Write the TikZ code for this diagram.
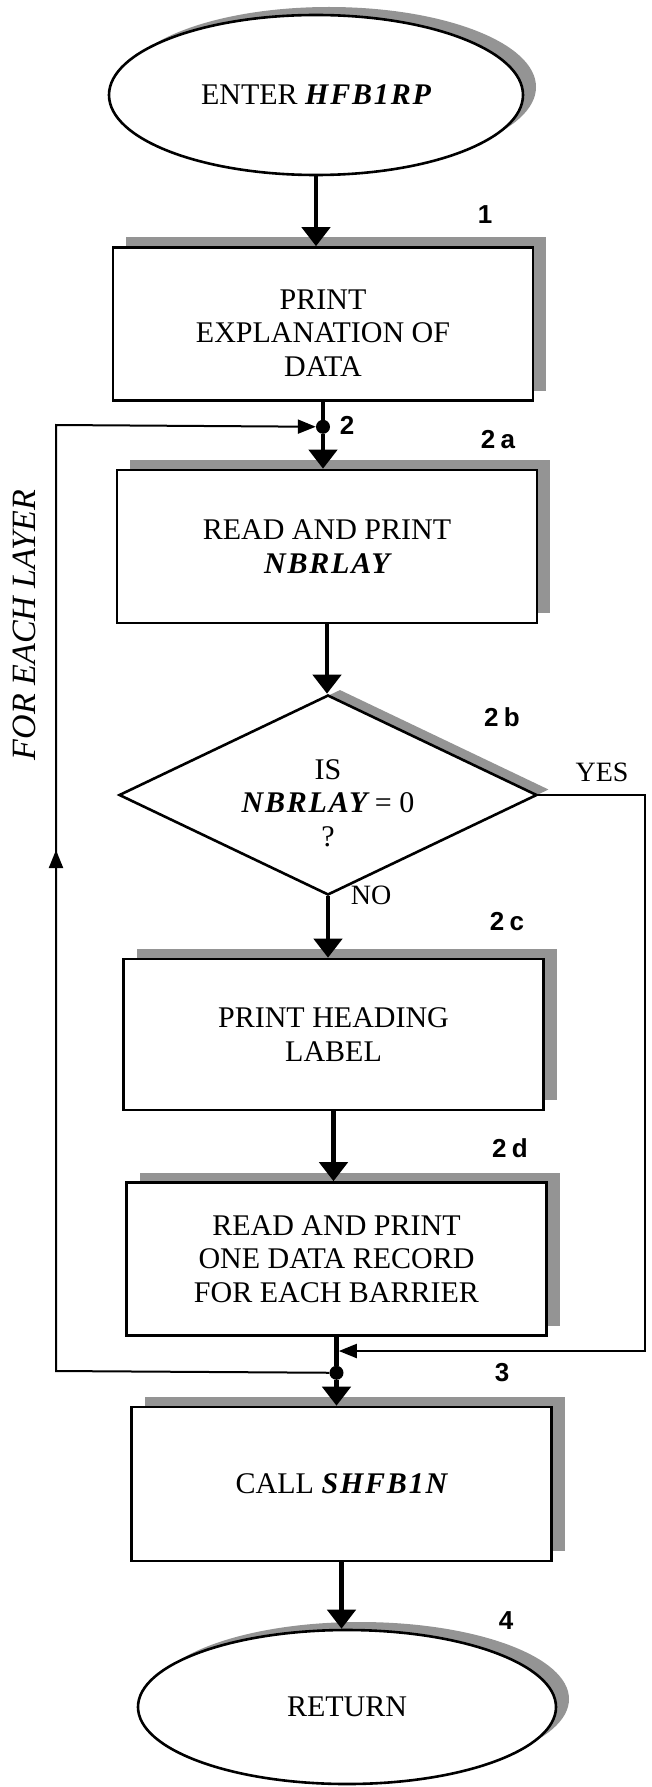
\documentclass[tikz,border=0pt]{standalone}
\usepackage{fontspec}
\setmainfont{Liberation Serif}
\newfontfamily\labelfont{Liberation Sans}[LetterSpace=20]
\newfontfamily\progfont{Liberation Serif}[LetterSpace=6]
\usetikzlibrary{shapes.geometric,arrows.meta,shadows}

\newcommand\prog[1]{{\progfont\bfseries\itshape #1}}

\tikzset{
  flowtext/.style={font=\fontsize{30}{33.5}\selectfont, align=center},
  shade box/.style={drop shadow={shadow xshift=13pt, shadow yshift=10pt,
      fill=black!42, opacity=1}},
  stepbox/.style={flowtext, draw, line width=2.6pt, fill=white,
      minimum width=420pt, minimum height=153pt, inner sep=0pt, shade box},
  terminal/.style={flowtext, ellipse, draw, line width=2.6pt, fill=white,
      inner sep=0pt, drop shadow={shadow xshift=13pt, shadow yshift=8pt,
      fill=black!42, opacity=1}},
  decision/.style={diamond, draw, line width=2.6pt, fill=white,
      minimum width=418pt, minimum height=200pt, inner sep=0pt,
      drop shadow={shadow xshift=12pt, shadow yshift=5.5pt,
      fill=black!42, opacity=1}},
  steplabel/.style={font=\labelfont\bfseries\fontsize{26}{28}\selectfont,
      inner sep=0pt},
  branchlabel/.style={font=\fontsize{28}{30}\selectfont, inner sep=0pt},
  junction/.style={circle, fill=black, inner sep=0pt, minimum size=14pt},
  flow/.style={line width=4.5pt, -{Triangle[width=28pt,length=19pt]}},
  flowline/.style={line width=4.5pt},
  looparrow/.style={line width=2pt, -{Triangle[width=14pt,length=18pt]}},
}

\begin{document}
\begin{tikzpicture}[x=1pt, y=-1pt]
\useasboundingbox (0,0) rectangle (652,1787);

% main chain of steps
\node[terminal, minimum width=414pt, minimum height=160pt] (enter) at (316,95)
  {ENTER \prog{HFB1RP}};
\node[stepbox] (b1) at (323,324) {};
\node[flowtext] (b1t) at ([yshift=-9pt]b1.center) {PRINT\\EXPLANATION OF\\DATA};
\node[stepbox] (b2a) at (327,546.5) {READ AND PRINT\\\prog{NBRLAY}};
\node[decision] (dia) at (328,795) {};
\node[flowtext] (diat) at ([yshift=-8pt]dia.center) {IS\\\prog{NBRLAY} = 0\\?};
\node[stepbox, minimum height=151pt] (b2c) at (333.5,1034.5) {PRINT HEADING\\LABEL};
\node[stepbox] (b2d) at (336.5,1259) {READ AND PRINT\\ONE DATA RECORD\\FOR EACH BARRIER};
\node[stepbox, minimum height=154pt] (b3) at (341.5,1484) {CALL \prog{SHFB1N}};
\node[terminal, minimum width=418pt, minimum height=154pt] (ret) at (347,1707) {RETURN};

% junction points of the layer loop
\node[junction] (j2) at ([yshift=-25pt]b1.south) {};
\node[junction] (j3) at ([yshift=-36pt]b2d.south) {};

% step numbers
\node[steplabel] (n1) at (485,215) {1};
\node[steplabel] (n2) at (347,425) {2};
\node[steplabel] (n2a) at (498,440) {2a};
\node[steplabel] (n2b) at (502,717) {2b};
\node[steplabel] (n2c) at (507,922) {2c};
\node[steplabel] (n2d) at (510,1148) {2d};
\node[steplabel] (n3) at (502,1373) {3};
\node[steplabel] (n4) at (506,1621) {4};

% branch labels
\node[branchlabel] (yes) at (602,772) {YES};
\node[branchlabel] (no) at (371,895) {NO};
\node[font=\itshape\fontsize{34}{36}\selectfont, rotate=90, inner sep=0pt]
  (loopname) at (24,625) {FOR EACH LAYER};

% vertical flow
\draw[flow] (enter.south) -- (enter.south |- b1.north);
\draw[flowline] (b1.south) -- (j2);
\draw[flow] (j2) -- (j2 |- b2a.north);
\draw[flow] (b2a.south) -- (b2a.south |- dia.north);
\draw[flow] (dia.south) -- (dia.south |- b2c.north);
\draw[flow] (b2c.south) -- (b2c.south |- b2d.north);
\draw[flowline] (b2d.south) -- (j3);
\draw[flow] (j3) -- (j3 |- b3.north);
\draw[flow] (b3.south) -- (b3.south |- ret.north);

% YES branch skips to the end of the loop
\coordinate (yc) at (645,1351);
\draw[looparrow, shorten >=2.3pt] (dia.east) -| (yc) -- (yc -| b2d.south);

% loop back to the next layer
\coordinate (lpb) at (56,1371);
\coordinate (lpt) at (56,425);
\coordinate (lpm) at (56,850);
\draw[looparrow] (j3) -- (lpb) -- (lpt) -- (j2);
\draw[looparrow] (lpb) -- (lpm);
\end{tikzpicture}
\end{document}
